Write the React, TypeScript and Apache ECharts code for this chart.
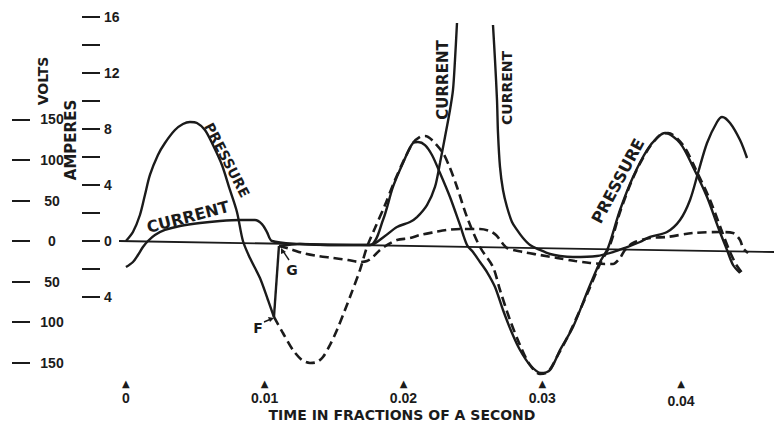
import React, { useEffect, useRef } from "react";
import * as echarts from "echarts";

// ---- axis ticks / labels ----
const timeTicks = [0, 0.01, 0.02, 0.03, 0.04];
const voltTicks = [-150, -100, -50, 0, 50, 100, 150];
const ampTicks = [-4, -2, 0, 2, 4, 6, 8, 10, 12, 14, 16];
const ampLabels = [-4, 0, 4, 8, 12, 16];

// ---- data: [time (s), value] ----
const baseline = [
  [-0.0005, 0],
  [0.0467, -13.6],
];

// pressure (volts), solid, first half-wave up to F
const pressureFirst = [
  [0, 0], [0.000505, 11.1], [0.001009, 32.1], [0.001369, 56.8], [0.00173, 81.5],
  [0.002306, 106.2], [0.002811, 121], [0.003532, 137], [0.004108, 144.4], [0.004613, 146.9],
  [0.005117, 145.7], [0.005694, 137], [0.00627, 118.5], [0.006919, 93.8], [0.007495, 63],
  [0.008, 35.8], [0.008432, 0], [0.008937, -21], [0.009658, -45.7], [0.010234, -72.8],
  [0.010667, -93.8],
];
// jump F -> G
const pressureJump = [
  [0.010667, -93.8],
  [0.011027, -6.2],
];
// pressure (volts), solid, from G onwards
const pressureSecond = [
  [0.011027, -6.2], [0.01254, -3.7], [0.014703, -4.9], [0.017586, -4.9], [0.018523, 25.9],
  [0.019243, 66.7], [0.019964, 96.3], [0.020685, 121], [0.021045, 122.2], [0.02155, 118.5],
  [0.022054, 106.2], [0.02263, 84], [0.023351, 54.3], [0.024072, 19.8], [0.024577, -4.9],
  [0.025009, -13.6], [0.025514, -25.9], [0.026018, -38.3], [0.026595, -56.8], [0.027171, -85.2],
  [0.02782, -113.6], [0.028396, -134.6], [0.029117, -153.1], [0.02991, -163], [0.03056, -159.3],
  [0.031279, -134.6], [0.032216, -106.2], [0.033297, -60.5], [0.034162, -25.9], [0.034739, -8.6],
  [0.035604, 38.3], [0.036541, 79], [0.03755, 112.3], [0.038342, 128.4], [0.038847, 133.3],
  [0.039928, 121], [0.040865, 91.4], [0.041874, 54.3], [0.042667, 17.3], [0.043315, -11.1],
  [0.043748, -29.6], [0.044252, -39.5],
];
// pressure (volts), dashed
const pressureDashed = [
  [0.010667, -93.8], [0.011315, -113.6], [0.012036, -134.6], [0.012685, -146.9], [0.013261, -150.6],
  [0.013766, -149.4], [0.014198, -143.2], [0.014703, -128.4], [0.015207, -109.9], [0.015784, -85.2],
  [0.016144, -69.1], [0.016865, -35.8], [0.017369, -7.4], [0.017946, 16], [0.018667, 44.4],
  [0.019387, 75.3], [0.020108, 102.5], [0.020685, 121], [0.021189, 128.4], [0.02155, 129.6],
  [0.022054, 124.7], [0.022847, 108.6], [0.023351, 90.1], [0.023856, 66.7], [0.024577, 29.6],
  [0.025514, -7.4], [0.02645, -32.1], [0.026955, -60.5], [0.027676, -97.5], [0.028396, -128.4],
  [0.029117, -153.1], [0.029838, -164.2], [0.030414, -161.7], [0.031135, -140.7], [0.032, -112.3],
  [0.033297, -63], [0.034162, -28.4], [0.034883, -4.9], [0.035604, 35.8], [0.036541, 77.8],
  [0.03755, 111.1], [0.038486, 130.9], [0.039063, 133.3], [0.040144, 118.5], [0.041081, 87.7],
  [0.04209, 50.6], [0.042883, 14.8], [0.043532, -13.6], [0.044036, -30.9], [0.04454, -42],
];
// current (amperes), solid
const currentSolid = [
  [0, -1.86], [0.000505, -1.5], [0.000865, -1.0], [0.001225, -0.43], [0.001586, 0],
  [0.00209, 0.43], [0.002811, 0.79], [0.003892, 1.07], [0.005333, 1.29], [0.006775, 1.43],
  [0.008216, 1.5], [0.009297, 1.5], [0.009802, 1.21], [0.010162, 0.64], [0.010523, 0],
  [0.01254, -0.21], [0.014703, -0.29], [0.017586, -0.29], [0.018667, 0.36], [0.019532, 1.0],
  [0.020468, 1.36], [0.020973, 1.71], [0.021694, 2.57], [0.02227, 3.86], [0.02263, 5.57],
  [0.022991, 7.43], [0.023351, 9.36], [0.023568, 10.79], [0.023712, 12.93], [0.023856, 15.57],
  [0.025, null],
  [0.02645, 15.43], [0.026595, 12.93], [0.026739, 10.07], [0.026811, 7.71], [0.026955, 5.29],
  [0.027171, 3.64], [0.027459, 2.43], [0.02782, 1.36], [0.02818, 0.79], [0.028613, 0.21],
  [0.029117, -0.29], [0.029838, -0.64], [0.03056, -0.93], [0.031279, -1.07], [0.032216, -1.14],
  [0.033946, -1.07], [0.035099, -0.79], [0.036108, -0.43], [0.037045, -0.07], [0.037766, 0.29],
  [0.038991, 0.64], [0.039928, 1.5], [0.040649, 2.93], [0.041225, 4.86], [0.041874, 7.0],
  [0.042595, 8.5], [0.042955, 8.86], [0.043532, 8.43], [0.044252, 7.21], [0.044757, 5.93],
];
// current (amperes), dashed
const currentDashed = [
  [0.011027, -0.36], [0.01182, -0.57], [0.012757, -0.86], [0.013838, -1.07], [0.014919, -1.21],
  [0.016, -1.36], [0.016865, -1.5], [0.017369, -1.43], [0.017802, -1.14], [0.018306, -0.64],
  [0.018811, -0.29], [0.019532, 0.07], [0.020468, 0.21], [0.021189, 0.43], [0.02227, 0.64],
  [0.023135, 0.79], [0.024072, 0.86], [0.025514, 0.86], [0.026234, 0.71], [0.026667, 0.43],
  [0.026955, 0.07], [0.027459, -0.5], [0.028613, -0.79], [0.029838, -1.0], [0.031063, -1.21],
  [0.03236, -1.43], [0.033441, -1.57], [0.034523, -1.64], [0.035099, -1.64], [0.035604, -1.21],
  [0.035964, -0.64], [0.036541, -0.14], [0.037766, 0.21], [0.038991, 0.29], [0.040865, 0.57],
  [0.042811, 0.64], [0.043748, 0.57], [0.044252, 0.07], [0.044468, -0.5], [0.044829, -0.86],
];

const INK = "#1b1b1b";
const LABEL_FONT = "'DejaVu Sans', sans-serif";
const NUM_FONT = "'Liberation Sans', Arial, sans-serif";

const VOLT_MIN = -171.6;
const VOLT_MAX = 276.54;
const AMP_MIN = -9.929;
const AMP_MAX = 16;

function fmtTime(v: number) {
  return v === 0 ? "0" : v.toFixed(2);
}

export default function App() {
  const ref = useRef<HTMLDivElement>(null);

  useEffect(() => {
    if (!ref.current) return;
    const chart = echarts.init(ref.current, null, { renderer: "svg" });

    const solid = { color: INK, width: 2.4 };
    const dashed = { color: INK, width: 2.6, type: [9, 5] as any };

    const lineSeries = (data: any[], yAxisIndex: number, lineStyle: any, smooth: number | boolean = 0.3) => ({
      type: "line",
      data,
      xAxisIndex: 0,
      yAxisIndex,
      smooth,
      showSymbol: false,
      symbol: "none",
      connectNulls: false,
      lineStyle,
      silent: true,
      z: 3,
    });

    const txt = (text: string, x: number, y: number, fontSize: number, rotation = 0, font = LABEL_FONT) => ({
      type: "text",
      x,
      y,
      rotation,
      z: 10,
      style: {
        text,
        fill: INK,
        fontSize,
        fontWeight: "bold",
        fontFamily: font,
        align: "center",
        verticalAlign: "middle",
      },
    });

    const numLabel = {
      color: INK,
      fontSize: 14,
      fontWeight: "bold",
      fontFamily: NUM_FONT,
      formatter: (v: number) => String(Math.abs(v)),
    };

    const option: any = {
      animation: false,
      backgroundColor: "#ffffff",
      grid: [
        { left: 119, right: 0, top: 17, height: 363, containLabel: false, outerBoundsMode: "none" },
        { left: 12, width: 2, top: 17, height: 363, containLabel: false, outerBoundsMode: "none" },
        { left: 82, width: 2, top: 17, height: 363, containLabel: false, outerBoundsMode: "none" },
      ],
      xAxis: [
        {
          type: "value",
          gridIndex: 0,
          min: -0.0005,
          max: 0.0467,
          axisLine: { show: false },
          axisTick: { show: false },
          splitLine: { show: false },
          axisLabel: {
            customValues: timeTicks,
            margin: -3,
            color: INK,
            formatter: (v: number) =>
              Math.abs(v - 0.04) < 1e-9
                ? `{tri|▲}\n{num2|${fmtTime(v)}}`
                : `{tri|▲}\n{num|${fmtTime(v)}}`,
            rich: {
              tri: { fontSize: 10, lineHeight: 12, color: INK, fontFamily: LABEL_FONT },
              num: { fontSize: 14, lineHeight: 17, fontWeight: "bold", color: INK, fontFamily: NUM_FONT },
              num2: { fontSize: 14, lineHeight: 17, fontWeight: "bold", color: INK, fontFamily: NUM_FONT, padding: [6, 0, 0, 0] },
            },
          },
        },
        { type: "value", gridIndex: 1, show: false, min: 0, max: 1 },
        { type: "value", gridIndex: 2, show: false, min: 0, max: 1 },
      ],
      yAxis: [
        // volts scale for plotting (hidden)
        { type: "value", gridIndex: 0, show: false, min: VOLT_MIN, max: VOLT_MAX, splitLine: { show: false } },
        // amperes scale for plotting (hidden)
        { type: "value", gridIndex: 0, show: false, min: AMP_MIN, max: AMP_MAX, splitLine: { show: false } },
        // visible volts scale
        {
          type: "value",
          gridIndex: 1,
          position: "left",
          min: VOLT_MIN,
          max: VOLT_MAX,
          axisLine: { show: false },
          splitLine: { show: false },
          axisTick: {
            show: true,
            inside: true,
            length: 18,
            customValues: voltTicks,
            lineStyle: { color: INK, width: 2 },
          },
          axisLabel: {
            ...numLabel,
            inside: true,
            customValues: voltTicks,
            margin: 40,
            align: "center",
          },
        },
        // visible amperes scale
        {
          type: "value",
          gridIndex: 2,
          position: "left",
          min: AMP_MIN,
          max: AMP_MAX,
          axisLine: { show: false },
          splitLine: { show: false },
          axisTick: {
            show: true,
            inside: true,
            length: 18,
            customValues: ampTicks,
            lineStyle: { color: INK, width: 2 },
          },
          axisLabel: {
            ...numLabel,
            inside: true,
            customValues: ampLabels,
            margin: 22,
            align: "left",
          },
        },
      ],
      series: [
        lineSeries(baseline, 0, { color: INK, width: 1.8 }, false),
        lineSeries(pressureFirst, 0, solid),
        lineSeries(pressureJump, 0, solid, false),
        lineSeries(pressureSecond, 0, solid),
        lineSeries(pressureDashed, 0, dashed),
        lineSeries(currentSolid, 1, solid),
        lineSeries(currentDashed, 1, dashed),
      ],
      graphic: [
        txt("VOLTS", 43, 81, 14, Math.PI / 2),
        txt("AMPERES", 71, 140, 15, Math.PI / 2),
        txt("PRESSURE", 227, 160, 14, -1.09),
        txt("CURRENT", 188, 217, 16, 0.257),
        txt("CURRENT", 443, 80, 15, Math.PI / 2),
        txt("CURRENT", 507, 88, 14, Math.PI / 2),
        txt("PRESSURE", 618, 181, 16, 1.08),
        txt("F", 258, 328, 14),
        txt("G", 292, 270, 14),
        txt("TIME IN FRACTIONS OF A SECOND", 402, 415, 14),
        {
          type: "line",
          z: 10,
          shape: { x1: 264, y1: 322, x2: 271, y2: 319 },
          style: { stroke: INK, lineWidth: 1.4 },
        },
        {
          type: "polygon",
          z: 10,
          shape: { points: [[274, 318], [268, 317], [270, 322]] },
          style: { fill: INK },
        },
        {
          type: "line",
          z: 10,
          shape: { x1: 289, y1: 260, x2: 283, y2: 251 },
          style: { stroke: INK, lineWidth: 1.4 },
        },
        {
          type: "polygon",
          z: 10,
          shape: { points: [[281, 248], [281, 254], [286, 252]] },
          style: { fill: INK },
        },
      ],
    };

    chart.setOption(option);
    return () => chart.dispose();
  }, []);

  return (
    <div
      ref={ref}
      style={{ position: "fixed", left: 0, top: 0, width: 774, height: 428, background: "#fff" }}
    />
  );
}
